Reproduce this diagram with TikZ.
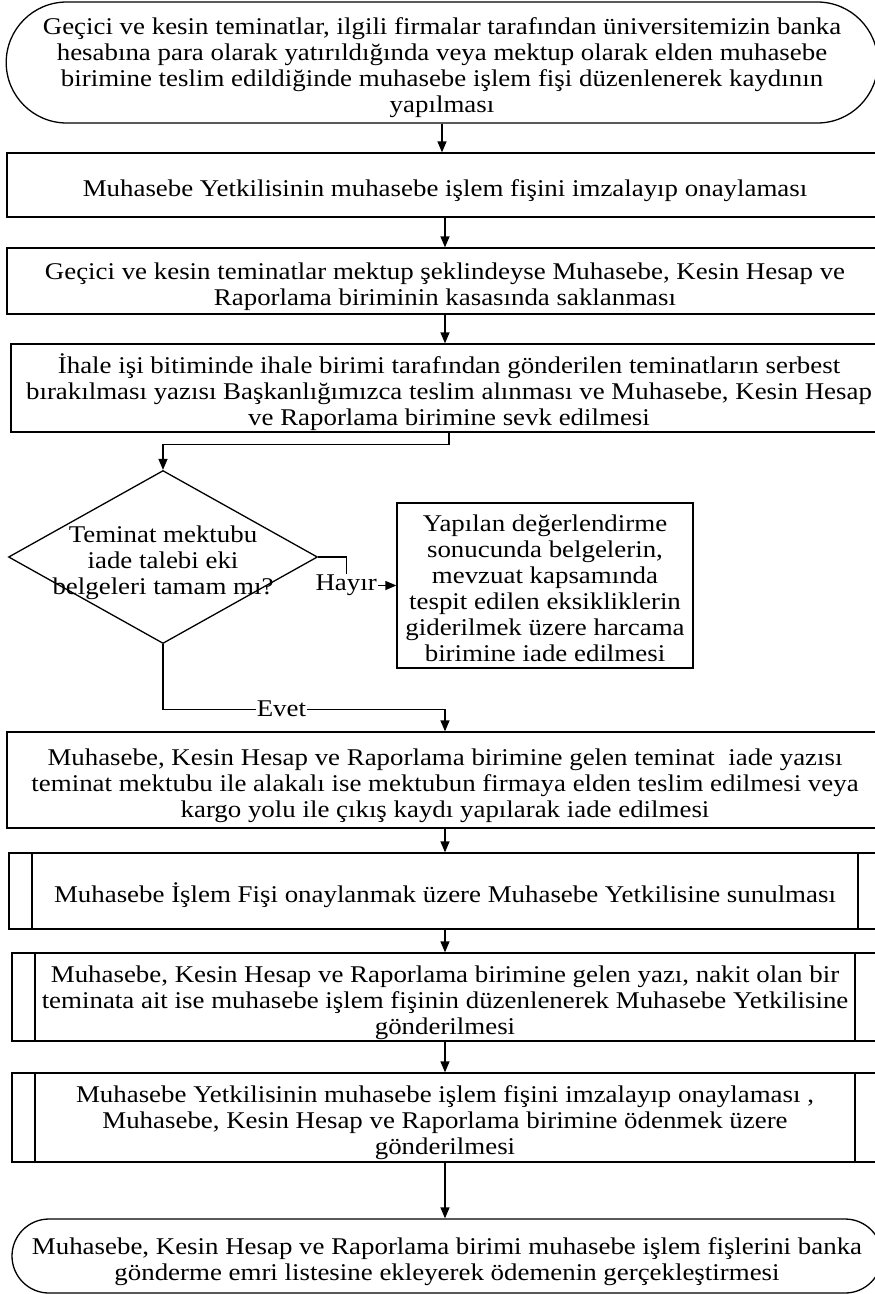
\documentclass[tikz,border=0pt]{standalone}
\usepackage{fontspec}
\setmainfont{Liberation Serif}[FakeStretch=1.12]
\usetikzlibrary{shapes.misc,shapes.geometric,arrows.meta}
\newcommand\topstrut{\rule{0pt}{28pt}}
\newcommand\botstrut{\rule[-5.2pt]{0pt}{5.2pt}}

\begin{document}
\begin{tikzpicture}[x=1pt,y=-1pt,
	font=\fontsize{24}{26}\selectfont,
	line width=1.3pt,
	txt/.style={execute at begin node=\topstrut,execute at end node=\botstrut},
	box/.style={draw,rectangle,inner sep=0pt,align=center,txt},
	term/.style={draw,rounded rectangle,inner sep=0pt,align=center,txt},
	subproc/.style={box,path picture={
		\draw ([xshift=23pt]path picture bounding box.north west) -- ([xshift=23pt]path picture bounding box.south west)
		      ([xshift=-23pt]path picture bounding box.north east) -- ([xshift=-23pt]path picture bounding box.south east);}},
	decision/.style={draw,diamond,inner sep=0pt},
	arr/.style={-{Triangle[length=11pt,width=9pt]}}]
		\useasboundingbox (0,0) rectangle (875,1294);
		\fill[white] (0,0) rectangle (875,1294);
		\clip (0,0) rectangle (875,1294);
		
		\node[term,minimum width=864pt,minimum height=121pt] (t1) at (442,62.5) {\topstrut Geçici ve kesin teminatlar, ilgili firmalar tarafından üniversitemizin banka\\hesabına para olarak yatırıldığında veya mektup olarak elden muhasebe\\birimine teslim edildiğinde muhasebe işlem fişi düzenlenerek kaydının\\yapılması\botstrut};
		\node[box,minimum width=876pt,minimum height=64pt] (b2) at (445,185) {Muhasebe Yetkilisinin muhasebe işlem fişini imzalayıp onaylaması};
		\node[box,minimum width=876pt,minimum height=66pt] (b3) at (445,281) {\topstrut Geçici ve kesin teminatlar mektup şeklindeyse Muhasebe, Kesin Hesap ve\\Raporlama biriminin kasasında saklanması\botstrut};
		\node[box,minimum width=876pt,minimum height=88pt] (b4) at (449,388) {\topstrut İhale işi bitiminde ihale birimi tarafından gönderilen teminatların serbest\\bırakılması yazısı Başkanlığımızca teslim alınması ve Muhasebe, Kesin Hesap\\ve Raporlama birimine sevk edilmesi\botstrut};
		
		% karar
		\node[decision,minimum width=309pt,minimum height=173pt,
			label={[align=center]center:\topstrut Teminat mektubu\\iade talebi eki\\belgeleri tamam mı?\botstrut}] (d) at (163,557) {};
		\node[box,minimum width=296pt,minimum height=165pt] (b5) at (545,585.5) {\topstrut Yapılan değerlendirme\\sonucunda belgelerin,\\mevzuat kapsamında\\tespit edilen eksikliklerin\\giderilmek üzere harcama\\birimine iade edilmesi\botstrut};
		
		\node[box,minimum width=876pt,minimum height=96pt] (b6) at (445,780) {\topstrut Muhasebe, Kesin Hesap ve Raporlama birimine gelen teminat~ iade yazısı\\teminat mektubu ile alakalı ise mektubun firmaya elden teslim edilmesi veya\\kargo yolu ile çıkış kaydı yapılarak iade edilmesi\botstrut};
		\node[subproc,minimum width=872pt,minimum height=76pt] (b7) at (445,891) {Muhasebe İşlem Fişi onaylanmak üzere Muhasebe Yetkilisine sunulması};
		\node[subproc,minimum width=866pt,minimum height=88pt] (b8) at (445,997) {\topstrut Muhasebe, Kesin Hesap ve Raporlama birimine gelen yazı, nakit olan bir\\teminata ait ise muhasebe işlem fişinin düzenlenerek Muhasebe Yetkilisine\\gönderilmesi\botstrut};
		\node[subproc,minimum width=866pt,minimum height=89pt] (b9) at (445,1117.5) {\topstrut Muhasebe Yetkilisinin muhasebe işlem fişini imzalayıp onaylaması ,\\Muhasebe, Kesin Hesap ve Raporlama birimine ödenmek üzere\\gönderilmesi\botstrut};
		\node[term,minimum width=870pt,minimum height=74pt] (t2) at (447,1256) {\topstrut Muhasebe, Kesin Hesap ve Raporlama birimi muhasebe işlem fişlerini banka\\gönderme emri listesine ekleyerek ödemenin gerçekleştirmesi\botstrut};
		
		\draw[arr] (t1.south) -- (t1.south |- b2.north);
		\draw[arr] (b2.south) -- (b3.north);
		\draw[arr] (b3.south) -- (b3.south |- b4.north);
		\draw[arr] (b4.south) -- ++(0,12) -| (d.north);
		\draw[arr] (d.east) -- ++(28,0) |- (b5.west) node[pos=0.5,fill=white,inner sep=1pt] (lblno) {Hayır};
		\draw[arr] (d.south) -- ++(0,65) -| (b6.north) node[pos=0.21,fill=white,inner sep=1pt] (lblyes) {Evet};
		\draw[arr] (b6.south) -- (b7.north);
		\draw[arr] (b7.south) -- (b8.north);
		\draw[arr] (b8.south) -- (b9.north);
		\draw[arr] (b9.south) -- (b9.south |- t2.north);
	\end{tikzpicture}
\end{document}
